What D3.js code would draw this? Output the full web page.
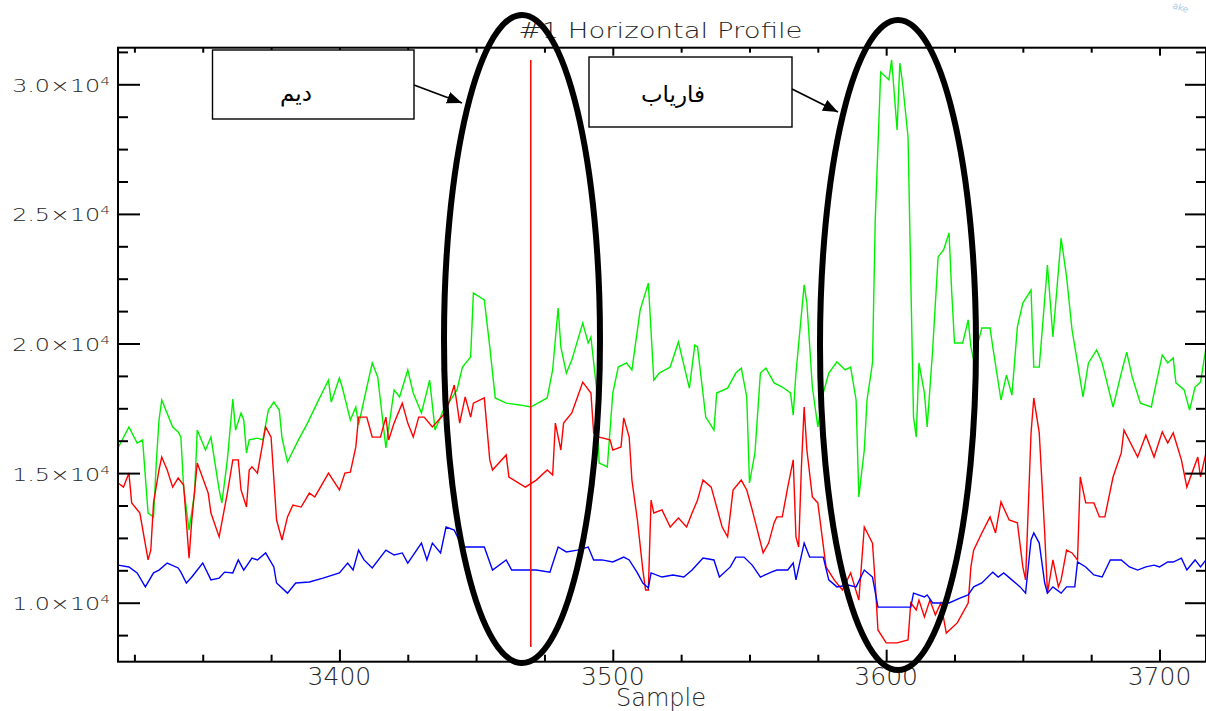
<!DOCTYPE html>
<html>
<head>
<meta charset="utf-8">
<script src="https://cdn.jsdelivr.net/npm/d3@7"></script>
<style>
  html, body { margin: 0; padding: 0; background: #fff; }
  svg { display: block; }
  .lbl { font-family: "DejaVu Sans", sans-serif; font-weight: 300; fill: #262626; }
  .fa { font-family: "DejaVu Sans", sans-serif; fill: #000; }
</style>
</head>
<body>
<svg id="chart" width="1206" height="711"></svg>
<script>
// ---- data ----
const greenSamples = [3319,3323,3326,3328,3330,3332,3333,3334,3335,3339,3341,3342,3343,3345,3347,3348,3351,3353,3356,3357,3359,3361,3362,3364,3365,3366,3367,3370,3372,3374,3376,3378,3379,3381,3385,3388,3392,3396,3397,3400,3401,3404,3406,3407,3409,3412,3414,3417,3420,3422,3425,3427,3430,3433,3435,3438,3439,3443,3445,3448,3449,3453,3455,3457,3461,3466,3470,3476,3478,3480,3481,3483,3485,3489,3491,3492,3494,3495,3498,3500,3502,3505,3507,3510,3513,3515,3517,3521,3524,3528,3530,3531,3534,3537,3538,3542,3545,3547,3549,3550,3552,3554,3556,3559,3562,3565,3566,3567,3570,3571,3573,3575,3577,3579,3582,3585,3587,3589,3590,3592,3593,3595,3596,3598,3601,3602,3604,3605,3606,3608,3609,3610,3611,3612,3614,3615,3617,3619,3621,3623,3624,3625,3628,3630,3631,3632,3635,3638,3639,3642,3644,3646,3648,3650,3653,3654,3656,3659,3661,3664,3666,3668,3670,3672,3674,3677,3679,3683,3686,3688,3690,3693,3697,3698,3701,3703,3705,3706,3709,3711,3713,3715,3717];
const greenValues = [15970,16780,16160,16280,13460,13310,15390,17050,17820,16780,16590,16390,14460,12800,14230,16660,15890,16390,14350,13850,15510,17860,16660,17320,17050,15780,16280,16350,16280,17430,17740,17430,16350,15430,16280,16860,17740,18590,17740,18670,18320,17050,17550,16860,17820,19250,18710,15970,18210,17940,18980,18090,17320,18590,16660,17430,17550,18210,19090,19480,21950,21680,19870,17900,17700,17630,17550,17900,18980,21370,19870,18860,19360,20790,20020,20250,18320,15390,15240,18090,19090,19250,18980,21290,22330,18590,18860,19090,20060,18280,19940,19870,17160,16660,18090,18280,18860,19050,17940,14620,15780,18860,19050,18480,18320,18090,17240,18860,22260,21560,18320,16780,18090,18860,19290,18980,19090,17820,14080,15890,17820,19250,24760,30470,30170,30940,28240,30820,30050,27970,22570,17170,16390,19250,18090,16780,19750,23340,23610,24260,21950,20020,20020,20910,19870,19360,20600,20600,19870,17820,18780,18010,20640,21560,22060,19090,19090,23030,20250,24070,22570,20520,19250,17940,19250,19750,19250,17550,18860,19670,18710,17700,17550,18090,19560,19250,19440,18480,18210,17430,18320,18510,19830];

const redSamples = [3319,3321,3323,3324,3327,3330,3331,3332,3334,3335,3337,3339,3341,3343,3345,3346,3348,3352,3353,3356,3359,3361,3363,3364,3366,3367,3368,3370,3373,3375,3377,3379,3381,3383,3386,3389,3391,3396,3400,3402,3404,3406,3407,3410,3411,3412,3415,3417,3418,3420,3423,3425,3427,3429,3431,3434,3438,3440,3442,3444,3446,3448,3449,3453,3455,3456,3461,3462,3468,3472,3476,3478,3479,3481,3482,3485,3488,3489,3492,3493,3495,3499,3500,3503,3504,3506,3507,3509,3511,3512,3513,3514,3515,3518,3521,3524,3527,3528,3529,3531,3533,3536,3538,3540,3542,3544,3547,3549,3551,3555,3557,3559,3560,3562,3564,3566,3567,3568,3569,3570,3571,3573,3575,3578,3581,3584,3587,3590,3592,3595,3596,3597,3600,3604,3608,3609,3611,3612,3614,3616,3618,3620,3622,3626,3630,3631,3632,3635,3638,3640,3642,3645,3648,3650,3651,3653,3654,3656,3658,3659,3661,3663,3664,3666,3668,3670,3671,3673,3676,3678,3680,3683,3686,3687,3692,3695,3698,3701,3703,3705,3708,3710,3714,3715,3717];
const redValues = [14620,14460,15000,13850,13460,11650,12030,13850,15120,15620,15120,14460,14810,14540,11720,13190,15390,14230,13460,12540,14230,15510,15510,14350,13690,15120,15240,15000,16780,16390,13190,12420,13310,13770,13690,14230,14080,15000,14350,15000,15040,16010,17160,17160,16780,16390,16390,17160,16280,16930,17700,16930,16390,17160,17160,16780,17240,17700,18400,16930,17940,17160,17700,17900,15510,15120,15700,14850,14460,14730,15120,14930,16930,15890,16930,17320,18210,18510,18090,16550,16390,16280,15890,16010,17130,16390,14730,13190,11260,10490,10490,13960,13460,13580,12920,13270,12920,13190,13460,13960,14730,14460,13690,12920,12540,14350,14730,14350,13580,11920,12300,13080,13310,13310,14460,15510,12540,12150,15240,17550,15890,14080,13850,11380,10880,10490,11150,10100,12920,12300,10760,8950,8450,8450,8560,9990,9720,10100,9450,10100,9530,9990,8830,9220,9990,11380,12030,12690,13310,12690,13890,13190,13080,11380,10880,16550,17900,16550,12690,10370,11650,10610,10880,12030,11920,11650,14850,13850,13850,13310,13310,14850,15780,16660,15620,16470,15620,16590,16160,16550,15510,14460,15620,14850,15780];

const blueSamples = [3319,3323,3326,3329,3332,3334,3337,3341,3342,3344,3346,3350,3353,3356,3358,3361,3363,3365,3368,3370,3373,3376,3377,3381,3384,3389,3394,3400,3403,3405,3407,3409,3412,3417,3420,3423,3425,3430,3432,3434,3437,3439,3442,3445,3450,3453,3456,3461,3463,3467,3472,3477,3480,3483,3487,3491,3493,3496,3500,3504,3506,3509,3511,3513,3514,3518,3522,3526,3529,3533,3537,3539,3543,3545,3548,3551,3554,3558,3560,3564,3566,3567,3570,3572,3577,3579,3582,3586,3589,3592,3595,3597,3601,3606,3609,3610,3614,3615,3617,3620,3623,3627,3630,3632,3635,3639,3641,3643,3646,3649,3651,3653,3654,3656,3658,3659,3661,3664,3666,3669,3670,3673,3676,3679,3682,3686,3689,3692,3695,3698,3700,3703,3705,3708,3710,3713,3715,3717];
const blueValues = [11450,11380,11150,10610,11150,11260,11530,11340,11180,10760,10990,11530,10880,10950,11180,11150,11650,11260,11720,11650,11920,11380,10760,10370,10760,10800,10950,11150,11530,11260,12030,11650,11340,12030,11840,11920,11530,12300,11650,12300,11920,12920,12800,12150,12150,12150,11260,11650,11260,11260,11260,11180,12150,11960,12030,12150,11650,11650,11570,11760,11650,11150,10760,10570,11150,10990,11070,10990,11260,11720,11650,10990,11380,11760,11760,11450,10990,11180,11260,11260,11530,10880,12300,11760,11760,10880,10610,10680,10610,11260,10990,9830,9830,9830,9830,10370,10220,10300,9990,9990,9990,10180,10300,10610,10760,11180,10990,11150,10880,10610,10370,12420,12690,12300,10760,10370,10610,10370,10610,10610,11570,11380,11070,10990,11650,11650,11380,11260,11380,11450,11380,11570,11570,11720,11260,11650,11380,11650];

// cursor line (sample, from value, to value)
const cursorSample = 3470;
const cursorRange = [8290, 30940];

// axis ticks and labels
const xMajor = [3400, 3500, 3600, 3700];
const xMinor = d3.range(3325, 3717, 25);
const xLabels = ["3400", "3500", "3600", "3700"];
const yMajor = [10000, 15000, 20000, 25000, 30000];
const yMinor = d3.range(8750, 31400, 1250);
const yMantissas = ["1.0", "1.5", "2.0", "2.5", "3.0"];
const yExponent = "4";

const titleText = "#1 Horizontal Profile";
const xTitle = "Sample";
const noteDim = "دیم";
const noteFaryab = "فاریاب";

// ---- scales ----
const svg = d3.select("#chart");
const plotLeft = 118, plotRight = 1206, plotTop = 47.7, plotBottom = 661.7;

const x = d3.scaleLinear().domain([3319, 3717]).range([plotLeft, plotRight]);
const y = d3.scaleLinear().domain([7724, 31412]).range([plotBottom, plotTop]);

const defs = svg.append("defs");
defs.append("clipPath").attr("id", "plotClip")
  .append("rect").attr("x", plotLeft).attr("y", plotTop)
  .attr("width", plotRight - plotLeft).attr("height", plotBottom - plotTop);

// ---- data lines ----
const line = d3.line().x(d => x(d[0])).y(d => y(d[1]));
const series = [
  { xs: greenSamples, ys: greenValues, color: "#00f000" },
  { xs: redSamples, ys: redValues, color: "#ff0000" },
  { xs: blueSamples, ys: blueValues, color: "#0000ff" }
];

const plot = svg.append("g").attr("clip-path", "url(#plotClip)");
series.forEach(s => {
  plot.append("path")
    .datum(d3.zip(s.xs, s.ys))
    .attr("d", line)
    .attr("fill", "none")
    .attr("stroke", s.color)
    .attr("stroke-width", 1.4);
});

plot.append("line")
  .attr("x1", x(cursorSample)).attr("x2", x(cursorSample))
  .attr("y1", y(cursorRange[0])).attr("y2", y(cursorRange[1]))
  .attr("stroke", "#ff0000").attr("stroke-width", 1.5);

// ---- frame and ticks ----
svg.append("rect")
  .attr("x", plotLeft).attr("y", plotTop)
  .attr("width", plotRight - plotLeft).attr("height", plotBottom - plotTop)
  .attr("fill", "none").attr("stroke", "#000").attr("stroke-width", 2);

function addTicks(axis, values, size, transform) {
  svg.append("g")
    .attr("transform", transform)
    .call(axis.tickValues(values).tickSize(size).tickSizeOuter(0).tickFormat(""))
    .call(g => g.select(".domain").remove())
    .selectAll("line").attr("stroke", "#000").attr("stroke-width", 2);
}

const xMinorOnly = xMinor.filter(v => !xMajor.includes(v));
const yMinorOnly = yMinor.filter(v => !yMajor.includes(v));
addTicks(d3.axisBottom(x), xMinorOnly, -7, `translate(0,${plotBottom})`);
addTicks(d3.axisBottom(x), xMajor, -12, `translate(0,${plotBottom})`);
addTicks(d3.axisTop(x), xMinorOnly, -5, `translate(0,${plotTop})`);
addTicks(d3.axisTop(x), xMajor, -8, `translate(0,${plotTop})`);
addTicks(d3.axisLeft(y), yMinorOnly, -10, `translate(${plotLeft},0)`);
addTicks(d3.axisLeft(y), yMajor, -22, `translate(${plotLeft},0)`);
addTicks(d3.axisRight(y), yMinorOnly, -10, `translate(${plotRight},0)`);
addTicks(d3.axisRight(y), yMajor, -21, `translate(${plotRight},0)`);

// ---- labels ----
xMajor.forEach((v, i) => {
  svg.append("text").attr("class", "lbl")
    .attr("x", x(v)).attr("y", 685)
    .attr("text-anchor", "middle")
    .attr("font-size", 25)
    .text(xLabels[i]);
});

yMajor.forEach((v, i) => {
  const t = svg.append("text").attr("class", "lbl")
    .attr("transform", `translate(110,${y(v) + 7.5}) scale(1.4,1)`)
    .attr("text-anchor", "end")
    .attr("font-size", 17);
  t.append("tspan").text(yMantissas[i] + "×10");
  t.append("tspan").attr("dy", -7).attr("font-size", 11).text(yExponent);
});

svg.append("text").attr("class", "lbl")
  .attr("transform", "translate(660.5,38) scale(1.28,1)")
  .attr("text-anchor", "middle")
  .attr("font-size", 21.5)
  .text(titleText);

svg.append("text").attr("class", "lbl")
  .attr("x", 661).attr("y", 706)
  .attr("text-anchor", "middle")
  .attr("font-size", 24)
  .text(xTitle);

// ---- annotations ----
defs.append("marker")
  .attr("id", "head")
  .attr("markerUnits", "userSpaceOnUse")
  .attr("markerWidth", 16).attr("markerHeight", 12)
  .attr("refX", 15).attr("refY", 6)
  .attr("orient", "auto")
  .append("path").attr("d", "M0,0 L15,6 L0,12 Z").attr("fill", "#000");

const boxes = [
  { x0: 212.5, y0: 50, x1: 414, y1: 119, text: noteDim, tx: 296, ty: 101 },
  { x0: 589, y0: 57, x1: 792, y1: 127, text: noteFaryab, tx: 673, ty: 102 }
];
boxes.forEach(b => {
  svg.append("rect")
    .attr("x", b.x0).attr("y", b.y0)
    .attr("width", b.x1 - b.x0).attr("height", b.y1 - b.y0)
    .attr("fill", "#fff").attr("stroke", "#000").attr("stroke-width", 1.4);
  svg.append("text").attr("class", "fa")
    .attr("x", b.tx).attr("y", b.ty)
    .attr("text-anchor", "middle")
    .attr("font-size", 23)
    .text(b.text);
});

const arrows = [[414, 85, 462, 103], [792, 89, 838, 112]];
arrows.forEach(a => {
  svg.append("line")
    .attr("x1", a[0]).attr("y1", a[1]).attr("x2", a[2]).attr("y2", a[3])
    .attr("stroke", "#000").attr("stroke-width", 1.8)
    .attr("marker-end", "url(#head)");
});

const ellipses = [[522, 339, 78, 324], [898, 345, 78, 325]];
ellipses.forEach(e => {
  svg.append("ellipse")
    .attr("cx", e[0]).attr("cy", e[1]).attr("rx", e[2]).attr("ry", e[3])
    .attr("fill", "none").attr("stroke", "#000").attr("stroke-width", 6);
});

// faint watermark fragment in the corner
svg.append("text")
  .attr("transform", "translate(1172,8) rotate(18)")
  .attr("font-family", "DejaVu Sans, sans-serif")
  .attr("font-size", 9)
  .attr("fill", "#a9cbe6")
  .text("ake");
</script>
</body>
</html>
